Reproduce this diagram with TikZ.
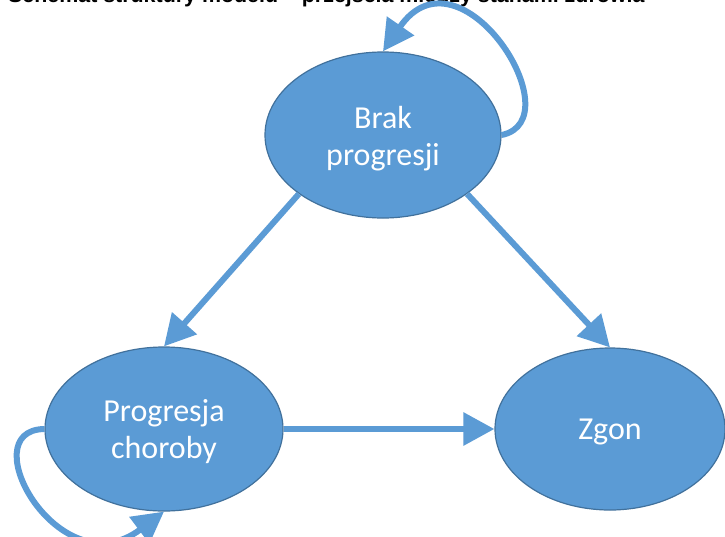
\documentclass[tikz,border=0pt]{standalone}
\usepackage{fontspec}
\setmainfont{Carlito}
\newfontfamily\titlefont{Liberation Sans}
\usetikzlibrary{shapes.geometric,arrows.meta}
\definecolor{stateblue}{HTML}{5B9BD5}
\definecolor{stateedge}{HTML}{41719C}
\tikzset{
  state/.style={ellipse, fill=stateblue, draw=stateedge, line width=1.2pt,
    inner sep=0pt},
  statetext/.style={inner sep=0pt, text=white, align=center,
    font=\fontsize{32}{37}\selectfont},
  flow/.style={draw=stateblue, line width=6pt,
    -{Triangle[length=31pt,width=32pt]}},
}
\begin{document}
\begin{tikzpicture}[x=1pt,y=-1pt]
\clip (0,0) rectangle (725,536);
\fill[white] (0,0) rectangle (725,536);
\node[anchor=base west, inner sep=0pt, font=\titlefont\bfseries\fontsize{21.4}{24}\selectfont] (title) at (8,2.5)
  {Schemat struktury modelu – przejścia między stanami zdrowia};
\node[state, minimum width=236pt, minimum height=166pt] (top) at (383,135) {};
\node[state, minimum width=238pt, minimum height=164pt] (left) at (164,429) {};
\node[state, minimum width=230pt, minimum height=162pt] (zgon) at (610,429) {};
\node[statetext] (toptext) at (383,138.5) {Brak\\progresji};
\node[statetext] (lefttext) at (164,432) {Progresja\\choroby};
\node[statetext] (zgontext) at (610,431.5) {Zgon};
\draw[flow] (top.215) -- (left.north);
\draw[flow] (top.325) -- (zgon.north);
\draw[flow] (left.east) -- (zgon.west);
\draw[flow] (top.east) .. controls (575,120) and (460,-60) .. (top.north);
\draw[flow] (left.west) .. controls (-30,430) and (60,590) .. (left.south);
\end{tikzpicture}
\end{document}
